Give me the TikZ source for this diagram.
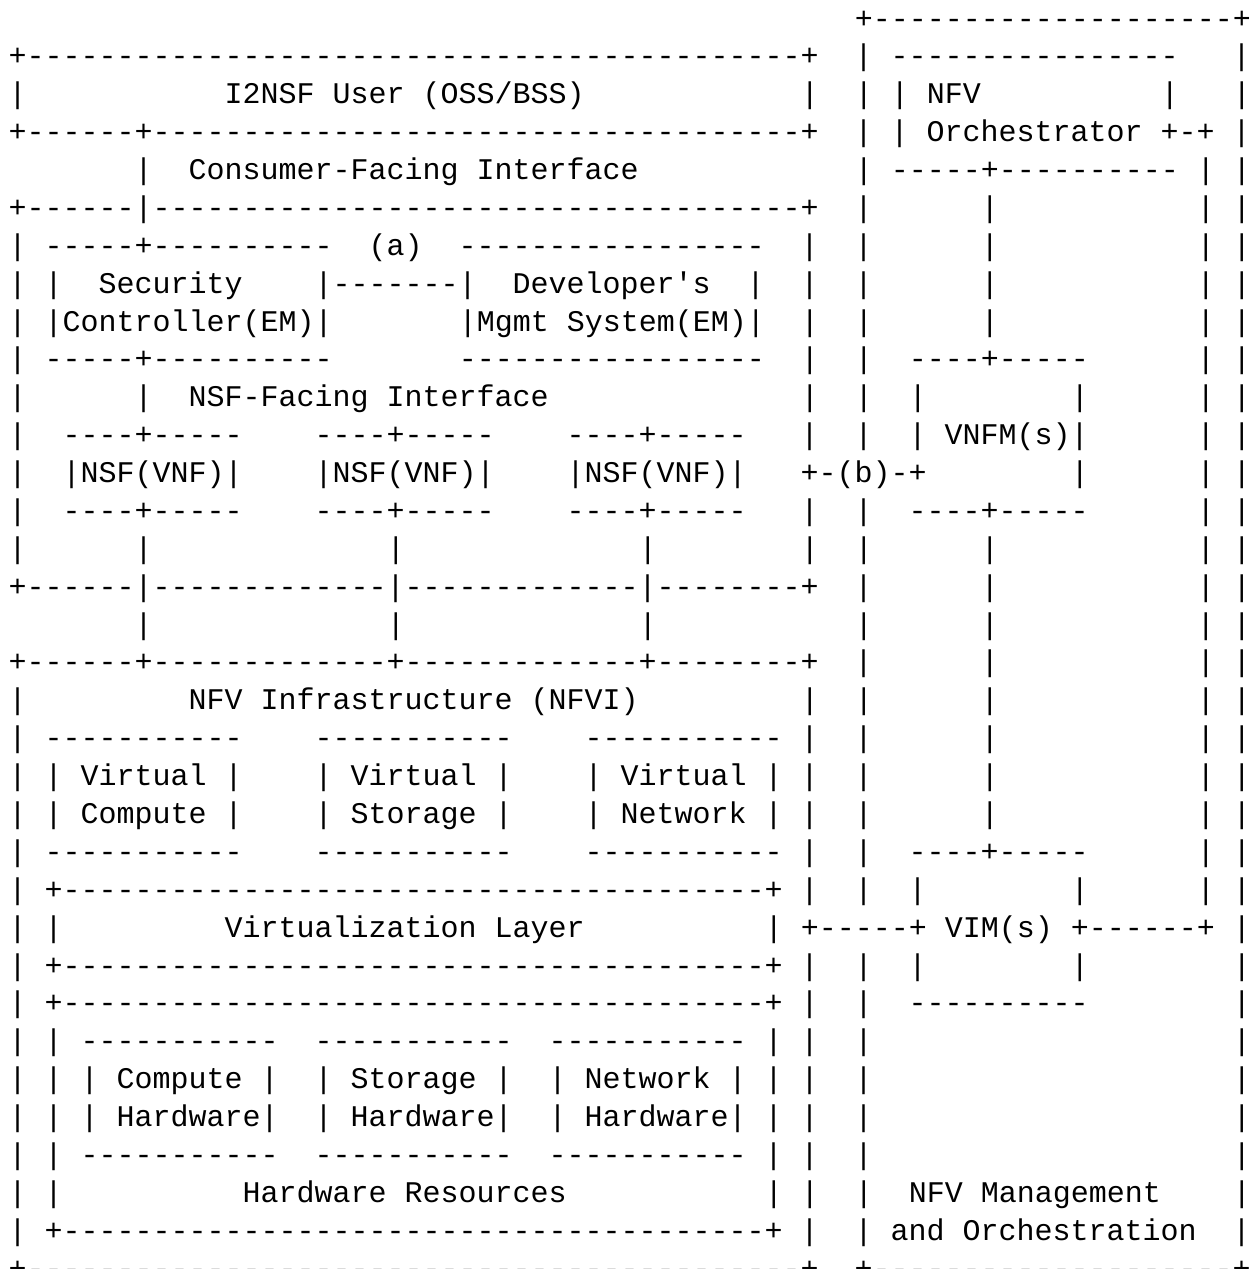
\documentclass[tikz,border=0pt]{standalone}
\usepackage{fontspec}
\setmonofont{Liberation Mono}
\ExplSyntaxOn
\cs_new:Npn \ascdash #1 { \prg_replicate:nn {#1} {-} }
\ExplSyntaxOff
\newlength\asccw
\setlength\asccw{9.0015pt}
\newcommand\ascgap[1]{\hspace*{#1\asccw}}
\newcommand\asc{\ttfamily\fontsize{15pt}{18pt}\selectfont}
\newcommand\ascRA{|\ascgap{6}|\ascgap{11}|\ascgap{1}|}
\newcommand\ascRB{|\ascgap{2}\ascdash{4}+\ascdash{5}\ascgap{6}|\ascgap{1}|}
\newcommand\ascRC{|\ascgap{2}|\ascgap{8}|\ascgap{6}|\ascgap{1}|}
\newcommand\ascRE{|\ascgap{20}|}
\newcommand\ascNSF{\ascdash{4}+\ascdash{5}}
\tikzset{asc/.style={anchor=base west, inner sep=0pt, outer sep=0pt, font=\asc, text=black}}
\begin{document}
\begin{tikzpicture}[x=0.5pt, y=-0.5pt]
\fill[white] (0,0) rectangle (1257,1269);
\useasboundingbox (0,0) rectangle (1257,1269);
\def\X{8.7}
\node[asc] (l0) at (\X,{28+37.88*0}) {\ascgap{47}+\ascdash{20}+};
\node[asc] (l1) at (\X,{28+37.88*1}) {+\ascdash{43}+\ascgap{2}|\ascgap{1}\ascdash{16}\ascgap{3}|};
\node[asc] (l2) at (\X,{28+37.88*2}) {|\ascgap{11}I2NSF User (OSS/BSS)\ascgap{12}|\ascgap{2}|\ascgap{1}|\ascgap{1}NFV\ascgap{10}|\ascgap{3}|};
\node[asc] (l3) at (\X,{28+37.88*3}) {+\ascdash{6}+\ascdash{36}+\ascgap{2}|\ascgap{1}|\ascgap{1}Orchestrator\ascgap{1}+-+\ascgap{1}|};
\node[asc] (l4) at (\X,{28+37.88*4}) {\ascgap{7}|\ascgap{2}Consumer-Facing Interface\ascgap{12}|\ascgap{1}\ascdash{5}+\ascdash{10}\ascgap{1}|\ascgap{1}|};
\node[asc] (l5) at (\X,{28+37.88*5}) {+\ascdash{6}|\ascdash{36}+\ascgap{2}\ascRA};
\node[asc] (l6) at (\X,{28+37.88*6}) {|\ascgap{1}\ascdash{5}+\ascdash{10}\ascgap{2}(a)\ascgap{2}\ascdash{17}\ascgap{2}|\ascgap{2}\ascRA};
\node[asc] (l7) at (\X,{28+37.88*7}) {|\ascgap{1}|\ascgap{2}Security\ascgap{4}|\ascdash{7}|\ascgap{2}Developer's\ascgap{2}|\ascgap{2}|\ascgap{2}\ascRA};
\node[asc] (l8) at (\X,{28+37.88*8}) {|\ascgap{1}|Controller(EM)|\ascgap{7}|Mgmt System(EM)|\ascgap{2}|\ascgap{2}\ascRA};
\node[asc] (l9) at (\X,{28+37.88*9}) {|\ascgap{1}\ascdash{5}+\ascdash{10}\ascgap{7}\ascdash{17}\ascgap{2}|\ascgap{2}\ascRB};
\node[asc] (l10) at (\X,{28+37.88*10}) {|\ascgap{6}|\ascgap{2}NSF-Facing Interface\ascgap{14}|\ascgap{2}\ascRC};
\node[asc] (l11) at (\X,{28+37.88*11}) {|\ascgap{2}\ascNSF\ascgap{4}\ascNSF\ascgap{4}\ascNSF\ascgap{3}|\ascgap{2}|\ascgap{2}|\ascgap{1}VNFM(s)|\ascgap{6}|\ascgap{1}|};
\node[asc] (l12) at (\X,{28+37.88*12}) {|\ascgap{2}|NSF(VNF)|\ascgap{4}|NSF(VNF)|\ascgap{4}|NSF(VNF)|\ascgap{3}+-(b)-+\ascgap{8}|\ascgap{6}|\ascgap{1}|};
\node[asc] (l13) at (\X,{28+37.88*13}) {|\ascgap{2}\ascNSF\ascgap{4}\ascNSF\ascgap{4}\ascNSF\ascgap{3}|\ascgap{2}\ascRB};
\node[asc] (l14) at (\X,{28+37.88*14}) {|\ascgap{6}|\ascgap{13}|\ascgap{13}|\ascgap{8}|\ascgap{2}\ascRA};
\node[asc] (l15) at (\X,{28+37.88*15}) {+\ascdash{6}|\ascdash{13}|\ascdash{13}|\ascdash{8}+\ascgap{2}\ascRA};
\node[asc] (l16) at (\X,{28+37.88*16}) {\ascgap{7}|\ascgap{13}|\ascgap{13}|\ascgap{11}\ascRA};
\node[asc] (l17) at (\X,{28+37.88*17}) {+\ascdash{6}+\ascdash{13}+\ascdash{13}+\ascdash{8}+\ascgap{2}\ascRA};
\node[asc] (l18) at (\X,{28+37.88*18}) {|\ascgap{9}NFV Infrastructure (NFVI)\ascgap{9}|\ascgap{2}\ascRA};
\node[asc] (l19) at (\X,{28+37.88*19}) {|\ascgap{1}\ascdash{11}\ascgap{4}\ascdash{11}\ascgap{4}\ascdash{11}\ascgap{1}|\ascgap{2}\ascRA};
\node[asc] (l20) at (\X,{28+37.88*20}) {|\ascgap{1}|\ascgap{1}Virtual\ascgap{1}|\ascgap{4}|\ascgap{1}Virtual\ascgap{1}|\ascgap{4}|\ascgap{1}Virtual\ascgap{1}|\ascgap{1}|\ascgap{2}\ascRA};
\node[asc] (l21) at (\X,{28+37.88*21}) {|\ascgap{1}|\ascgap{1}Compute\ascgap{1}|\ascgap{4}|\ascgap{1}Storage\ascgap{1}|\ascgap{4}|\ascgap{1}Network\ascgap{1}|\ascgap{1}|\ascgap{2}\ascRA};
\node[asc] (l22) at (\X,{28+37.88*22}) {|\ascgap{1}\ascdash{11}\ascgap{4}\ascdash{11}\ascgap{4}\ascdash{11}\ascgap{1}|\ascgap{2}\ascRB};
\node[asc] (l23) at (\X,{28+37.88*23}) {|\ascgap{1}+\ascdash{39}+\ascgap{1}|\ascgap{2}\ascRC};
\node[asc] (l24) at (\X,{28+37.88*24}) {|\ascgap{1}|\ascgap{9}Virtualization Layer\ascgap{10}|\ascgap{1}+\ascdash{5}+\ascgap{1}VIM(s)\ascgap{1}+\ascdash{6}+\ascgap{1}|};
\node[asc] (l25) at (\X,{28+37.88*25}) {|\ascgap{1}+\ascdash{39}+\ascgap{1}|\ascgap{2}|\ascgap{2}|\ascgap{8}|\ascgap{8}|};
\node[asc] (l26) at (\X,{28+37.88*26}) {|\ascgap{1}+\ascdash{39}+\ascgap{1}|\ascgap{2}|\ascgap{2}\ascdash{10}\ascgap{8}|};
\node[asc] (l27) at (\X,{28+37.88*27}) {|\ascgap{1}|\ascgap{1}\ascdash{11}\ascgap{2}\ascdash{11}\ascgap{2}\ascdash{11}\ascgap{1}|\ascgap{1}|\ascgap{2}\ascRE};
\node[asc] (l28) at (\X,{28+37.88*28}) {|\ascgap{1}|\ascgap{1}|\ascgap{1}Compute\ascgap{1}|\ascgap{2}|\ascgap{1}Storage\ascgap{1}|\ascgap{2}|\ascgap{1}Network\ascgap{1}|\ascgap{1}|\ascgap{1}|\ascgap{2}\ascRE};
\node[asc] (l29) at (\X,{28+37.88*29}) {|\ascgap{1}|\ascgap{1}|\ascgap{1}Hardware|\ascgap{2}|\ascgap{1}Hardware|\ascgap{2}|\ascgap{1}Hardware|\ascgap{1}|\ascgap{1}|\ascgap{2}\ascRE};
\node[asc] (l30) at (\X,{28+37.88*30}) {|\ascgap{1}|\ascgap{1}\ascdash{11}\ascgap{2}\ascdash{11}\ascgap{2}\ascdash{11}\ascgap{1}|\ascgap{1}|\ascgap{2}\ascRE};
\node[asc] (l31) at (\X,{28+37.88*31}) {|\ascgap{1}|\ascgap{10}Hardware Resources\ascgap{11}|\ascgap{1}|\ascgap{2}|\ascgap{2}NFV Management\ascgap{4}|};
\node[asc] (l32) at (\X,{28+37.88*32}) {|\ascgap{1}+\ascdash{39}+\ascgap{1}|\ascgap{2}|\ascgap{1}and Orchestration\ascgap{2}|};
\node[asc] (l33) at (\X,{28+37.88*33}) {+\ascdash{43}+\ascgap{2}+\ascdash{20}+};
\end{tikzpicture}
\end{document}
